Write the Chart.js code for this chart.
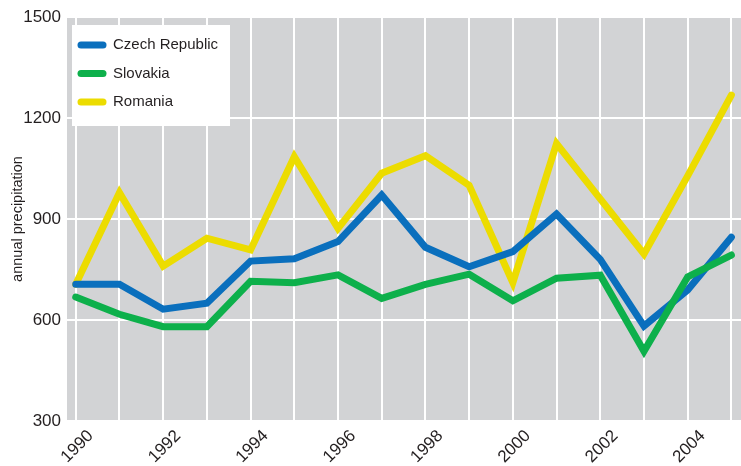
<!DOCTYPE html>
<html>
<head>
<meta charset="utf-8">
<script src="https://cdn.jsdelivr.net/npm/chart.js@4/dist/chart.umd.min.js"></script>
<style>
  html, body { margin: 0; padding: 0; background: #fff; }
  #wrap { width: 741px; height: 466px; }
</style>
</head>
<body>
<div id="wrap"><canvas id="rainChart" width="741" height="466"></canvas></div>
<script>
// Annual precipitation, 1990-2005
const years = [1990, 1991, 1992, 1993, 1994, 1995, 1996, 1997, 1998, 1999, 2000, 2001, 2002, 2003, 2004, 2005];
const czech = [706, 706, 632, 650, 775, 782, 833, 971, 816, 758, 803, 915, 780, 582, 689, 846];
const slovakia = [668, 617, 580, 580, 715, 711, 734, 664, 706, 736, 657, 724, 733, 507, 728, 793];
const romania = [706, 978, 760, 843, 808, 1085, 872, 1036, 1088, 1000, 711, 1124, 960, 796, 1028, 1268];
const yTicks = [300, 600, 900, 1200, 1500];

const FONT = '"Liberation Sans", Arial, Helvetica, sans-serif';
const INK = '#231f20';

function points(values) {
    return years.map((y, i) => ({ x: y, y: values[i] }));
}

// grey plot background
const plotBg = {
    id: 'plotBg',
    beforeDraw(chart) {
        const { ctx, chartArea: a } = chart;
        ctx.save();
        ctx.fillStyle = '#d2d3d5';
        ctx.fillRect(a.left, a.top, a.right - a.left, a.bottom - a.top);
        ctx.restore();
    }
};

// legend in a white box at the top-left of the plot
const boxLegend = {
    id: 'boxLegend',
    afterDatasetsDraw(chart) {
        const { ctx, chartArea: a } = chart;
        const x0 = a.left + 5, y0 = a.top + 8;
        ctx.save();
        ctx.fillStyle = '#fff';
        ctx.fillRect(x0, y0, 158, 101);
        ctx.font = '15px ' + FONT;
        ctx.textBaseline = 'middle';
        ctx.lineCap = 'round';
        ctx.lineWidth = 7;
        chart.data.datasets.forEach((ds, i) => {
            const cy = y0 + 20 + i * 28.5;
            ctx.strokeStyle = ds.borderColor;
            ctx.beginPath();
            ctx.moveTo(x0 + 9, cy);
            ctx.lineTo(x0 + 31, cy);
            ctx.stroke();
            ctx.fillStyle = INK;
            ctx.fillText(ds.label, x0 + 41, cy);
        });
        ctx.restore();
    }
};

const ctx = document.getElementById('rainChart').getContext('2d');
const rainChart = new Chart(ctx, {
    type: 'line',
    data: {
        datasets: [{
            label: 'Czech Republic',
            data: points(czech),
            borderColor: '#0a6fbd',
            order: 1
        }, {
            label: 'Slovakia',
            data: points(slovakia),
            borderColor: '#0db04b',
            order: 0
        }, {
            label: 'Romania',
            data: points(romania),
            borderColor: '#ecdc00',
            order: 2
        }]
    },
    options: {
        responsive: false,
        animation: false,
        layout: { padding: { top: 17, right: 0, left: 0, bottom: 0 } },
        elements: {
            line: { borderWidth: 7, tension: 0, borderCapStyle: 'round', borderJoinStyle: 'miter', fill: false },
            point: { radius: 0, hoverRadius: 0 }
        },
        plugins: {
            legend: { display: false },
            tooltip: { enabled: false }
        },
        scales: {
            x: {
                type: 'linear',
                min: 1989.8,
                max: 2005.22,
                afterBuildTicks(scale) {
                    scale.ticks = years.map(v => ({ value: v }));
                },
                afterFit(scale) {
                    scale.height = 45;
                    scale.paddingLeft = 0;
                    scale.paddingRight = 0;
                },
                grid: { color: '#ffffff', lineWidth: 2, drawTicks: false },
                border: { display: false },
                ticks: {
                    autoSkip: false,
                    minRotation: 45,
                    maxRotation: 45,
                    padding: 5,
                    labelOffset: 15,
                    color: INK,
                    font: { family: FONT, size: 17 },
                    callback: v => (v % 2 === 0 ? String(v) : '')
                }
            },
            y: {
                min: 300,
                max: 1500,
                afterBuildTicks(scale) {
                    scale.ticks = yTicks.map(v => ({ value: v }));
                },
                afterFit(scale) { scale.width = 67; },
                grid: { color: '#ffffff', lineWidth: 2, drawTicks: false },
                border: { display: false },
                title: {
                    display: true,
                    text: 'annual precipitation',
                    color: INK,
                    font: { family: FONT, size: 14.5 },
                    padding: { top: 9, bottom: 0 }
                },
                ticks: {
                    padding: 6,
                    color: INK,
                    font: { family: FONT, size: 17 },
                    callback: v => String(v)
                }
            }
        }
    },
    plugins: [plotBg, boxLegend]
});
</script>
</body>
</html>
